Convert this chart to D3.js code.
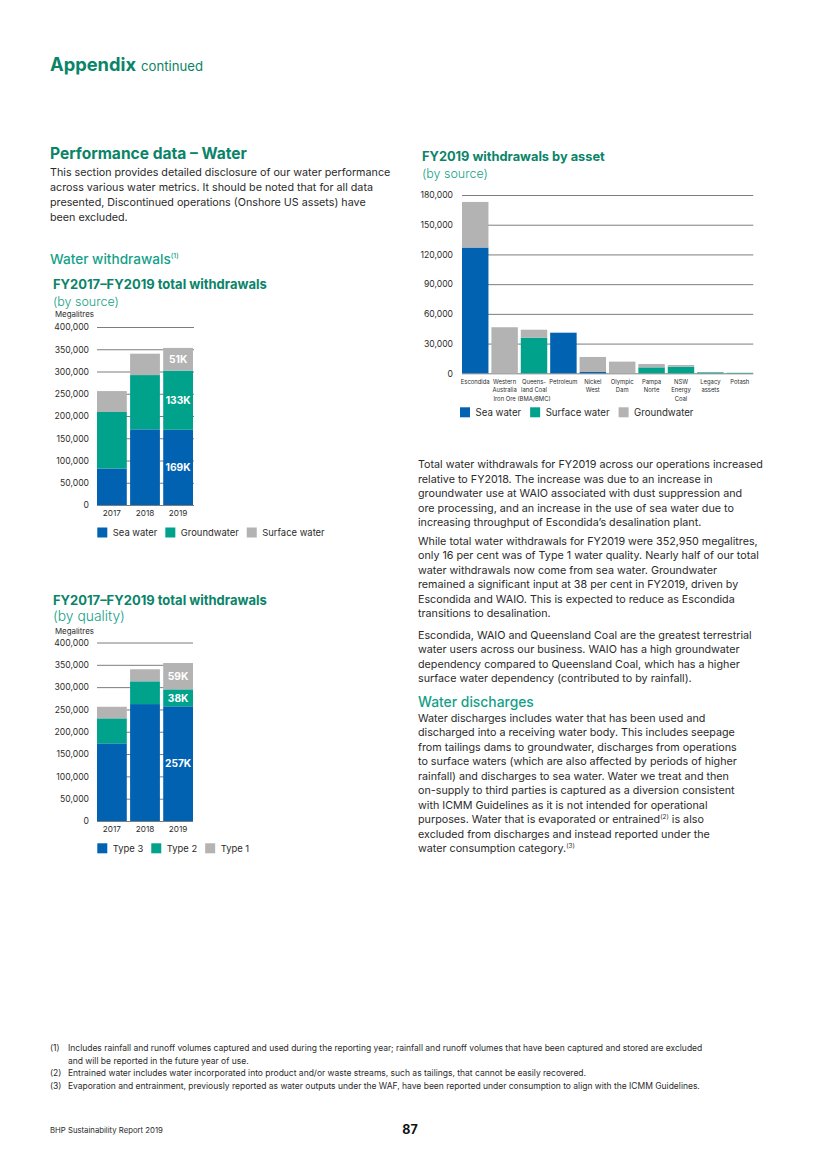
<!DOCTYPE html>
<html>
<head>
<meta charset="utf-8">
<script src="https://cdn.jsdelivr.net/npm/d3@7"></script>
<style>
  body { margin: 0; background: #fff; }
  svg { display: block; }
  text { font-family: Inter, "Noto Sans", sans-serif; }
</style>
</head>
<body>
<div id="page"></div>
<script>
// ---- data ----
const years = ['2017', '2018', '2019'];

const sourceKeys = ['Sea water', 'Groundwater', 'Surface water'];
const seaWater = [82000, 170000, 169000];
const groundwater = [127000, 122000, 133000];
const surfaceWater = [47000, 48000, 51000];

const qualityKeys = ['Type 3', 'Type 2', 'Type 1'];
const type3 = [174000, 262000, 257000];
const type2 = [56000, 51000, 38000];
const type1 = [26000, 27000, 59000];

const assets = ['Escondida', 'Western Australia Iron Ore', 'Queensland Coal (BMA/BMC)', 'Petroleum',
    'Nickel West', 'Olympic Dam', 'Pampa Norte', 'NSW Energy Coal', 'Legacy assets', 'Potash'];
const assetLabels = [['Escondida'], ['Western', 'Australia', 'Iron Ore'], ['Queens-', 'land Coal', '(BMA/BMC)'],
    ['Petroleum'], ['Nickel', 'West'], ['Olympic', 'Dam'], ['Pampa', 'Norte'], ['NSW', 'Energy', 'Coal'],
    ['Legacy', 'assets'], ['Potash']];
const assetKeys = ['Sea water', 'Surface water', 'Groundwater'];
const assetSea = [127000, 0, 0, 41000, 1300, 0, 0, 0, 0, 0];
const assetSurface = [0, 0, 36000, 0, 0, 0, 6000, 6700, 1000, 500];
const assetGround = [46000, 46500, 8000, 0, 15200, 11800, 3400, 1700, 300, 0];

const BLUE = '#0062b1', TEAL = '#00a28c', GREY = '#b3b3b3';
const DARKGREEN = '#0a8468', MIDGREEN = '#149f88', TEXT = '#2b2b2b';

const svg = d3.select('#page').append('svg').attr('width', 820).attr('height', 1160);
svg.append('rect').attr('width', 820).attr('height', 1160).attr('fill', '#fff');

// scale the font so the text is as wide as in the print
function fit(sel, width) {
    let fs = parseFloat(sel.attr('font-size'));
    let w = sel.node().getComputedTextLength();
    sel.attr('font-size', fs * width / w);
    return fs * width / w;
}

function measureSize(str, weight, width) {
    let t = svg.append('text').attr('font-size', 12).attr('font-weight', weight).text(str);
    let fs = fit(t, width);
    t.remove();
    return fs;
}

// lines may hold a superscript written as {n}
function writeLines(lines, x, y0, lh, fs, color) {
    lines.forEach((line, i) => {
        let t = svg.append('text').attr('x', x).attr('y', y0 + i * lh)
            .attr('font-size', fs).attr('fill', color || TEXT);
        let back = 0;
        line.split(/(\{\d\})/).forEach(part => {
            let m = part.match(/^\{(\d)\}$/);
            if (m) {
                t.append('tspan').attr('font-size', fs * 0.6).attr('dy', -fs * 0.35).text('(' + m[1] + ')');
                back = fs * 0.35;
            } else if (part.length) {
                t.append('tspan').attr('dy', back).text(part);
                back = 0;
            }
        });
    });
}

function heading(str, x, y, weight, color, width, fsStart) {
    let t = svg.append('text').attr('x', x).attr('y', y).attr('font-size', fsStart || 14)
        .attr('font-weight', weight).attr('fill', color).text(str);
    fit(t, width);
    return t;
}

// ---- page headings and text ----
heading('Appendix', 50, 71, 700, DARKGREEN, 86, 20);
svg.append('text').attr('x', 141).attr('y', 71).attr('font-size', 14).attr('font-weight', 400)
    .attr('fill', DARKGREEN).text('continued').call(s => fit(s, 62));

heading('Performance data \u2013 Water', 50, 158.5, 700, DARKGREEN, 197, 16);

const bodyFs = measureSize('Total water withdrawals for FY2019 across our operations increased', 400, 345);

writeLines([
    'This section provides detailed disclosure of our water performance',
    'across various water metrics. It should be noted that for all data',
    'presented, Discontinued operations (Onshore US assets) have',
    'been excluded.'
], 50, 176, 14.9, bodyFs);

let ww = heading('Water withdrawals', 50, 263.5, 500, MIDGREEN, 121, 15);
let wwFs = parseFloat(ww.attr('font-size'));
ww.append('tspan').attr('font-size', wwFs * 0.5).attr('dy', -wwFs * 0.4).text('(1)');

writeLines([
    'Total water withdrawals for FY2019 across our operations increased',
    'relative to FY2018. The increase was due to an increase in',
    'groundwater use at WAIO associated with dust suppression and',
    'ore processing, and an increase in the use of sea water due to',
    'increasing throughput of Escondida\u2019s desalination plant.'
], 418, 468, 14.5, bodyFs);
writeLines([
    'While total water withdrawals for FY2019 were 352,950 megalitres,',
    'only 16 per cent was of Type 1 water quality. Nearly half of our total',
    'water withdrawals now come from sea water. Groundwater',
    'remained a significant input at 38 per cent in FY2019, driven by',
    'Escondida and WAIO. This is expected to reduce as Escondida',
    'transitions to desalination.'
], 418, 544.5, 14.5, bodyFs);
writeLines([
    'Escondida, WAIO and Queensland Coal are the greatest terrestrial',
    'water users across our business. WAIO has a high groundwater',
    'dependency compared to Queensland Coal, which has a higher',
    'surface water dependency (contributed to by rainfall).'
], 418, 638.5, 14.5, bodyFs);

heading('Water discharges', 418, 706.5, 500, MIDGREEN, 116, 15);
writeLines([
    'Water discharges includes water that has been used and',
    'discharged into a receiving water body. This includes seepage',
    'from tailings dams to groundwater, discharges from operations',
    'to surface waters (which are also affected by periods of higher',
    'rainfall) and discharges to sea water. Water we treat and then',
    'on-supply to third parties is captured as a diversion consistent',
    'with ICMM Guidelines as it is not intended for operational',
    'purposes. Water that is evaporated or entrained{2} is also',
    'excluded from discharges and instead reported under the',
    'water consumption category.{3}'
], 418, 721.5, 14.5, bodyFs);

// footnotes
const noteFs = measureSize('Includes rainfall and runoff volumes captured and used during the reporting year; rainfall and runoff volumes that have been captured and stored are excluded', 400, 635);
const notes = [
    ['(1)', 'Includes rainfall and runoff volumes captured and used during the reporting year; rainfall and runoff volumes that have been captured and stored are excluded'],
    ['', 'and will be reported in the future year of use.'],
    ['(2)', 'Entrained water includes water incorporated into product and/or waste streams, such as tailings, that cannot be easily recovered.'],
    ['(3)', 'Evaporation and entrainment, previously reported as water outputs under the WAF, have been reported under consumption to align with the ICMM Guidelines.']
];
notes.forEach((n, i) => {
    let y = 1051 + i * 12.5;
    if (n[0]) svg.append('text').attr('x', 50).attr('y', y).attr('font-size', noteFs).attr('fill', TEXT).text(n[0]);
    svg.append('text').attr('x', 68).attr('y', y).attr('font-size', noteFs).attr('fill', TEXT).text(n[1]);
});

svg.append('text').attr('x', 50).attr('y', 1133).attr('font-size', 8).attr('fill', TEXT)
    .text('BHP Sustainability Report 2019').call(s => fit(s, 113));
svg.append('text').attr('x', 410).attr('y', 1134).attr('font-size', 12.5).attr('font-weight', 700)
    .attr('text-anchor', 'middle').attr('fill', '#111').text('87');

// ---- stacked bar charts ----
function stackedChart(cfg) {
    let g = svg.append('g');
    let x = d3.scaleBand().domain(cfg.cats).range([cfg.x0, cfg.x1]).paddingInner(cfg.pad).paddingOuter(0);
    let y = d3.scaleLinear().domain([0, cfg.max]).range([cfg.y0, cfg.y1]);

    let rows = cfg.cats.map((c, i) => {
        let r = {cat: c};
        cfg.keys.forEach((k, j) => r[k] = cfg.vals[j][i]);
        return r;
    });
    let series = d3.stack().keys(cfg.keys)(rows);

    let axis = d3.axisLeft(y)
        .tickValues(d3.range(0, cfg.max + 1, cfg.step))
        .tickSize(-(cfg.gx1 - cfg.x0))
        .tickPadding(cfg.tickPad)
        .tickFormat(d3.format(','));
    let ag = g.append('g').attr('transform', 'translate(' + cfg.x0 + ',0)').call(axis);
    ag.select('.domain').remove();
    ag.selectAll('.tick line').attr('stroke', '#6e6e6e').attr('stroke-width', 0.9);
    ag.selectAll('.tick text').attr('font-size', cfg.tickFs).attr('fill', TEXT)
        .attr('font-family', 'Inter, "Noto Sans", sans-serif');

    g.append('g').selectAll('g')
        .data(series)
        .enter()
        .append('g')
        .attr('fill', (s, i) => cfg.colors[i])
        .selectAll('rect')
        .data(s => s)
        .enter()
        .append('rect')
        .attr('x', d => x(d.data.cat))
        .attr('y', d => y(d[1]))
        .attr('width', x.bandwidth())
        .attr('height', d => Math.max(0, y(d[0]) - y(d[1])));

    // value labels on the last bar
    if (cfg.labelCat) {
        let labelFs = measureSize('169K', 700, x.bandwidth() * 0.84);
        series.forEach(s => {
            let d = s.find(p => p.data.cat === cfg.labelCat);
            g.append('text')
                .attr('x', x(cfg.labelCat) + x.bandwidth() / 2)
                .attr('y', y((d[0] + d[1]) / 2) + labelFs * 0.36)
                .attr('text-anchor', 'middle')
                .attr('font-size', labelFs).attr('font-weight', 700).attr('fill', '#fff')
                .text(Math.round((d[1] - d[0]) / 1000) + 'K');
        });
    }

    // category labels
    let catFs = cfg.catFit ? measureSize(cfg.catFit[0], 400, cfg.catFit[1]) : cfg.catFs;
    cfg.catLabels.forEach((lines, i) => {
        lines.forEach((l, j) => {
            g.append('text')
                .attr('x', x(cfg.cats[i]) + x.bandwidth() / 2)
                .attr('y', cfg.y0 + cfg.catDy + j * cfg.catLh)
                .attr('text-anchor', 'middle')
                .attr('font-size', catFs).attr('fill', TEXT)
                .text(l);
        });
    });

    // legend, laid out one item after another
    let legendFs = measureSize('Sea water', 400, cfg.legendW);
    let lx = cfg.legendX;
    cfg.keys.forEach((k, i) => {
        g.append('rect').attr('x', lx).attr('y', cfg.legendY)
            .attr('width', 10).attr('height', 10).attr('fill', cfg.colors[i]);
        let t = g.append('text').attr('x', lx + 15.5).attr('y', cfg.legendY + 8.8)
            .attr('font-size', legendFs).attr('fill', TEXT).text(k);
        lx += 15.5 + t.node().getComputedTextLength() + cfg.legendGap;
    });
    return g;
}

function chartTitle(title, sub, x, y, subY, titleW, subW) {
    heading(title, x, y, 700, DARKGREEN, titleW, 14);
    heading(sub, x, subY, 300, MIDGREEN, subW, 14);
}

// chart 1
chartTitle('FY2017\u2013FY2019 total withdrawals', '(by source)', 53, 288.5, 305.5, 214, 66);
svg.append('text').attr('x', 55).attr('y', 317).attr('font-size', 8).attr('fill', TEXT)
    .text('Megalitres').call(s => fit(s, 39));
stackedChart({
    cats: years, catLabels: years.map(y => [y]), keys: sourceKeys,
    vals: [seaWater, groundwater, surfaceWater], colors: [BLUE, TEAL, GREY],
    x0: 97, x1: 193, gx1: 194, pad: 0.1, y0: 505, y1: 327, max: 400000, step: 50000,
    tickPad: 8, tickFs: 8.6, labelCat: '2019',
    catDy: 10.5, catLh: 9, catFs: 8.2,
    legendX: 97.3, legendY: 527.5, legendW: 44.6, legendGap: 8,
});

// chart 2
chartTitle('FY2017\u2013FY2019 total withdrawals', '(by quality)', 53, 604.5, 621, 214, 72);
svg.append('text').attr('x', 55).attr('y', 633.5).attr('font-size', 8).attr('fill', TEXT)
    .text('Megalitres').call(s => fit(s, 39));
stackedChart({
    cats: years, catLabels: years.map(y => [y]), keys: qualityKeys,
    vals: [type3, type2, type1], colors: [BLUE, TEAL, GREY],
    x0: 97, x1: 193, gx1: 193, pad: 0.1, y0: 821, y1: 642.5, max: 400000, step: 50000,
    tickPad: 8, tickFs: 8.6, labelCat: '2019',
    catDy: 10.5, catLh: 9, catFs: 8.2,
    legendX: 97.3, legendY: 843.3, legendW: 44.6, legendGap: 8,
});

// chart 3
chartTitle('FY2019 withdrawals by asset', '(by source)', 422, 161, 178, 183, 66);
stackedChart({
    cats: assets, catLabels: assetLabels, keys: assetKeys,
    vals: [assetSea, assetSurface, assetGround], colors: [BLUE, TEAL, GREY],
    x0: 462, x1: 753, gx1: 753.3, pad: 0.1, y0: 373.3, y1: 195, max: 180000, step: 30000,
    tickPad: 9, tickFs: 8.6, labelCat: null,
    catDy: 10.8, catLh: 8.3, catFit: ['Escondida', 29],
    legendX: 460, legendY: 407.3, legendW: 45.7, legendGap: 9,
});
</script>
</body>
</html>
